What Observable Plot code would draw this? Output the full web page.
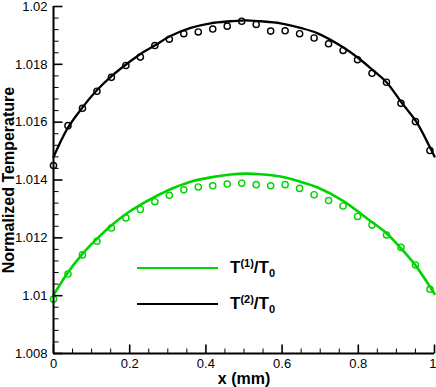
<!DOCTYPE html>
<html>
<head>
<meta charset="utf-8">
<script src="https://cdn.jsdelivr.net/npm/d3@7"></script>
<script src="https://cdn.jsdelivr.net/npm/@observablehq/plot@0.6"></script>
<style>
  html, body { margin: 0; padding: 0; background: #fff; }
  #wrap { position: relative; width: 436px; height: 387px; font-family: "Liberation Sans", Arial, Helvetica, sans-serif; }
  .legline { position: absolute; height: 2.5px; }
  .legtext { position: absolute; font-weight: bold; font-size: 17px; color: #000; line-height: 17px; white-space: nowrap; }
  .legtext sup { font-size: 11px; vertical-align: 6px; line-height: 0; }
  .legtext sub { font-size: 11px; vertical-align: -4px; line-height: 0; }
</style>
</head>
<body>
<div id="wrap"></div>
<script>
// ---- data ----
const circleX = [0, 0.038, 0.076, 0.114, 0.152, 0.19, 0.228, 0.266, 0.304, 0.342, 0.38, 0.418, 0.456, 0.494, 0.532, 0.57, 0.608, 0.646, 0.684, 0.722, 0.76, 0.798, 0.836, 0.874, 0.912, 0.95, 0.988];
const circleT1 = [1.00988, 1.01075, 1.01141, 1.01188, 1.01234, 1.01269, 1.01298, 1.01325, 1.01347, 1.01366, 1.01376, 1.0138, 1.01386, 1.01389, 1.01384, 1.0138, 1.01384, 1.01371, 1.01349, 1.01329, 1.0131, 1.01274, 1.01244, 1.0121, 1.01167, 1.01106, 1.01022];
const circleT2 = [1.0145, 1.01588, 1.01648, 1.01707, 1.01755, 1.01796, 1.01825, 1.01865, 1.01887, 1.01906, 1.01912, 1.01922, 1.01932, 1.01949, 1.01938, 1.01915, 1.01916, 1.01906, 1.01891, 1.01871, 1.01848, 1.01816, 1.01769, 1.01738, 1.01665, 1.01602, 1.01502];

const lineT1X = [0, 0.036, 0.075, 0.115, 0.154, 0.193, 0.228, 0.268, 0.307, 0.36, 0.412, 0.465, 0.504, 0.543, 0.596, 0.648, 0.692, 0.76, 0.83, 0.874, 0.913, 0.951, 0.992, 1];
const lineT1Y = [1.01002, 1.01077, 1.01143, 1.01198, 1.01245, 1.01285, 1.01314, 1.01343, 1.01368, 1.01394, 1.01409, 1.01419, 1.01422, 1.0142, 1.01412, 1.01394, 1.01375, 1.01328, 1.0126, 1.01216, 1.01162, 1.01103, 1.01023, 1.01006];

const lineT2X = [0, 0.036, 0.075, 0.115, 0.154, 0.193, 0.228, 0.268, 0.307, 0.36, 0.412, 0.465, 0.504, 0.543, 0.596, 0.648, 0.692, 0.76, 0.8, 0.839, 0.874, 0.913, 0.953, 0.988, 1];
const lineT2Y = [1.01479, 1.01577, 1.01649, 1.01712, 1.01761, 1.01802, 1.01836, 1.01867, 1.01898, 1.01926, 1.01942, 1.01949, 1.01952, 1.01949, 1.01942, 1.01926, 1.01908, 1.01859, 1.01822, 1.01779, 1.01738, 1.01669, 1.016, 1.01513, 1.01481];

const xMajor = [0, 0.2, 0.4, 0.6, 0.8, 1];
const xTickLabels = ["0", "0.2", "0.4", "0.6", "0.8", "1"];
const xMinor = [0.05, 0.1, 0.15, 0.25, 0.3, 0.35, 0.45, 0.5, 0.55, 0.65, 0.7, 0.75, 0.85, 0.9, 0.95];
const yMajor = [1.008, 1.01, 1.012, 1.014, 1.016, 1.018, 1.02];
const yTickLabels = ["1.008", "1.01", "1.012", "1.014", "1.016", "1.018", "1.02"];
const yMinor = [1.0084, 1.0088, 1.0092, 1.0096, 1.0104, 1.0108, 1.0112, 1.0116, 1.0124, 1.0128, 1.0132, 1.0136, 1.0144, 1.0148, 1.0152, 1.0156, 1.0164, 1.0168, 1.0172, 1.0176, 1.0184, 1.0188, 1.0192, 1.0196];

const seriesSup = ["(1)", "(2)"];
const seriesColors = ["#00d400", "#000000"];

// ---- build tables ----
const circles1 = circleX.map((x, i) => ({x, y: circleT1[i]}));
const circles2 = circleX.map((x, i) => ({x, y: circleT2[i]}));
const line1 = lineT1X.map((x, i) => ({x, y: lineT1Y[i]}));
const line2 = lineT2X.map((x, i) => ({x, y: lineT2Y[i]}));
const xLabelsInner = xMajor.slice(0, -1);
const xLabelLast = xMajor.slice(-1);

// custom tick symbols (length = r in pixels)
const tickRight = {draw(ctx, size) { const l = Math.sqrt(size / Math.PI); ctx.moveTo(0, 0); ctx.lineTo(l, 0); }};
const tickUp = {draw(ctx, size) { const l = Math.sqrt(size / Math.PI); ctx.moveTo(0, 0); ctx.lineTo(0, -l); }};
const fmtX = d => xTickLabels[xMajor.indexOf(d)];

const chart = Plot.plot({
  width: 436,
  height: 387,
  marginTop: 6,
  marginRight: 2,
  marginBottom: 34,
  marginLeft: 53,
  style: {fontFamily: '"Liberation Sans", Arial, Helvetica, sans-serif', fontSize: "13px", color: "#000", background: "#fff", overflow: "visible"},
  x: {domain: [0, 1]},
  y: {domain: [1.008, 1.02]},
  marks: [
    Plot.line(line1, {x: "x", y: "y", stroke: seriesColors[0], strokeWidth: 2.6, curve: "catmull-rom"}),
    Plot.line(line2, {x: "x", y: "y", stroke: seriesColors[1], strokeWidth: 2.3, curve: "catmull-rom"}),
    Plot.dot(circles1, {x: "x", y: "y", r: 3.1, stroke: seriesColors[0], strokeWidth: 1.4, fill: "none"}),
    Plot.dot(circles2, {x: "x", y: "y", r: 3.1, stroke: seriesColors[1], strokeWidth: 1.4, fill: "none"}),
    Plot.ruleX([0], {stroke: "#000", strokeWidth: 2}),
    Plot.ruleY([1.008], {stroke: "#000", strokeWidth: 2}),
    Plot.dot(yMajor, {y: d => d, frameAnchor: "left", symbol: tickRight, r: 9, stroke: "#000", strokeWidth: 1.6, fill: "none"}),
    Plot.dot(yMinor, {y: d => d, frameAnchor: "left", symbol: tickRight, r: 5, stroke: "#000", strokeWidth: 1, fill: "none"}),
    Plot.dot(xMajor, {x: d => d, frameAnchor: "bottom", symbol: tickUp, r: 9, stroke: "#000", strokeWidth: 1.6, fill: "none"}),
    Plot.dot(xMinor, {x: d => d, frameAnchor: "bottom", symbol: tickUp, r: 5, stroke: "#000", strokeWidth: 1, fill: "none"}),
    Plot.axisY({ticks: yMajor, tickSize: 0, tickPadding: 6, tickFormat: d => yTickLabels[yMajor.indexOf(d)], label: null}),
    Plot.axisX({ticks: xLabelsInner, tickSize: 0, tickPadding: 5, tickFormat: fmtX, label: null}),
    Plot.axisX({ticks: xLabelLast, tickSize: 0, tickPadding: 5, tickFormat: fmtX, label: null, textAnchor: "end", dx: 2}),
    Plot.text(["x (mm)"], {frameAnchor: "bottom", dy: 25, lineAnchor: "middle", textAnchor: "middle", text: d => d, fontWeight: "bold", fontSize: 16, fill: "#000"}),
    Plot.text(["Normalized Temperature"], {frameAnchor: "left", dx: -45, rotate: -90, lineAnchor: "middle", textAnchor: "middle", text: d => d, fontWeight: "bold", fontSize: 16, fill: "#000"})
  ]
});

const wrap = document.getElementById("wrap");
wrap.appendChild(chart);

// legend overlay
const legendTops = [268, 304];
seriesColors.forEach((color, i) => {
  const ln = document.createElement("div");
  ln.className = "legline";
  ln.style.left = "137px";
  ln.style.width = "81px";
  ln.style.top = (legendTops[i] - 1.25) + "px";
  ln.style.background = color;
  wrap.appendChild(ln);
  const tx = document.createElement("div");
  tx.className = "legtext";
  tx.style.left = "230px";
  tx.style.top = (legendTops[i] - 9.5) + "px";
  tx.innerHTML = "T<sup>" + seriesSup[i] + "</sup>/T<sub>0</sub>";
  wrap.appendChild(tx);
});
</script>
</body>
</html>
